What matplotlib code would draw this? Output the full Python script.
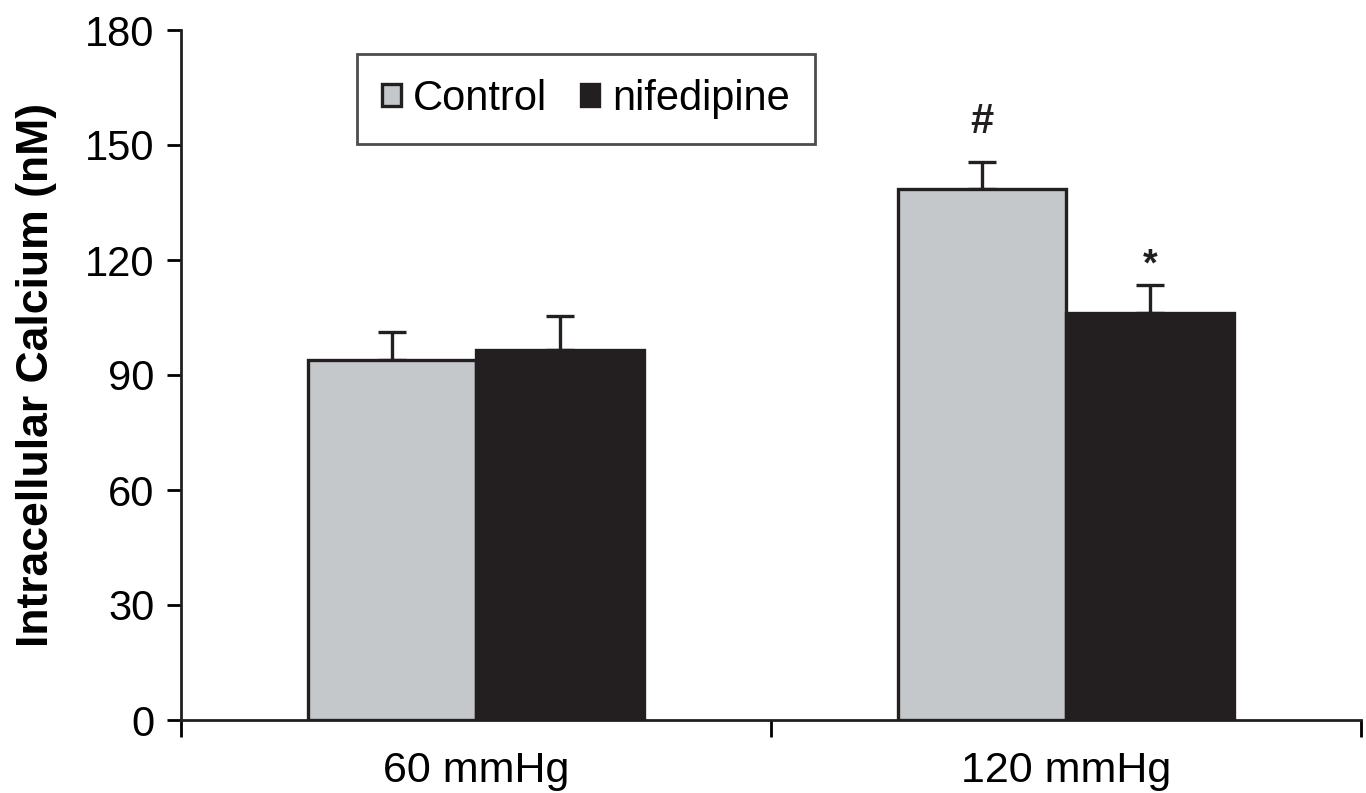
import matplotlib
matplotlib.use("Agg")
import matplotlib.pyplot as plt
import numpy as np

plt.rcParams['font.family'] = ['Liberation Sans', 'DejaVu Sans']

categories = ["60 mmHg", "120 mmHg"]
series_names = ["Control", "nifedipine"]
control_vals = [93.8, 138.5]
control_err = [7.3, 7.1]
nif_vals = [96.5, 106.3]
nif_err = [8.9, 7.2]
annotations_control = ["", "#"]
annotations_nif = ["", "*"]
yticks = [0, 30, 60, 90, 120, 150, 180]

fig = plt.figure(figsize=(13.66, 7.93), dpi=100)
ax = fig.add_axes([181/1366, 1-720/793, (1361-181)/1366, (720-30)/793])

x = np.arange(len(categories))
w = 0.285
lw = 2.4
ebkw = dict(elinewidth=lw, capsize=10, capthick=lw, ecolor='#231f20')
ax.bar(x - w/2, control_vals, w, color='#c4c8cb', edgecolor='#231f20', linewidth=lw,
       label=series_names[0], zorder=3)
ax.bar(x + w/2, nif_vals, w, color='#231f20', edgecolor='#231f20', linewidth=lw,
       label=series_names[1], zorder=3)
ax.errorbar(x - w/2, control_vals, yerr=[np.zeros(2), control_err], fmt='none', zorder=2, **ebkw)
ax.errorbar(x + w/2, nif_vals, yerr=[np.zeros(2), nif_err], fmt='none', zorder=2, **ebkw)

for i in range(len(categories)):
    if annotations_control[i]:
        ax.text(x[i] - w/2, control_vals[i] + control_err[i] + 7.5, annotations_control[i],
                ha='center', va='baseline', fontsize=30, fontweight='bold', color='#231f20')
    if annotations_nif[i]:
        ax.text(x[i] + w/2, nif_vals[i] + nif_err[i] + 2.5, annotations_nif[i],
                ha='center', va='baseline', fontsize=27, fontweight='bold', color='#231f20')

ax.set_xlim(-0.5, 1.5)
ax.set_ylim(0, 180)
ax.set_yticks(yticks)
ax.set_yticklabels([str(t) for t in yticks], fontsize=30)
ax.set_xticks(x)
ax.set_xticklabels(categories, fontsize=31)
ax.tick_params(axis='x', which='major', length=0, pad=22)
ax.set_xticks([-0.5, 0.5, 1.5], minor=True)
ax.tick_params(axis='x', which='minor', length=12, width=2, direction='out')
ax.tick_params(axis='y', length=10, width=2, direction='out', pad=9)
for s in ['top', 'right']:
    ax.spines[s].set_visible(False)
for s in ['left', 'bottom']:
    ax.spines[s].set_linewidth(2)
    ax.spines[s].set_color('#231f20')

ax.set_ylabel("Intracellular Calcium (nM)", fontsize=32, fontweight='bold', labelpad=20)

leg = ax.legend(loc='upper left', bbox_to_anchor=((357-181)/1180, (720-54)/690), ncol=2,
                fontsize=30, frameon=True, fancybox=False, edgecolor='#231f20',
                handlelength=0.45, handleheight=0.45, handletextpad=0.3, columnspacing=0.8,
                borderpad=0.6, borderaxespad=0)
leg.get_frame().set_linewidth(2)

fig.savefig("out.png", dpi=100)
